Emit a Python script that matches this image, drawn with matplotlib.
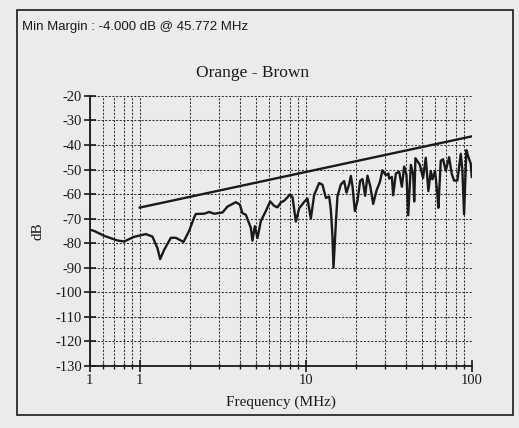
import matplotlib.pyplot as plt
from matplotlib.patches import Rectangle
from matplotlib.ticker import FixedLocator, LogLocator, NullFormatter

freq_mhz = [0.5, 0.531, 0.61, 0.734, 0.805, 0.925, 1.088, 1.192, 1.278, 1.327,
            1.403, 1.539, 1.65, 1.834, 1.984, 2.127, 2.178, 2.443, 2.618, 2.806,
            3.148, 3.375, 3.793, 4.009, 4.157, 4.356, 4.67, 4.773, 4.935, 5.117,
            5.364, 5.749, 6.103, 6.451, 6.753, 7.079, 7.411, 7.758, 8.02, 8.316,
            8.717, 9.125, 9.781, 10.24, 10.73, 11.23, 12.04, 12.61, 13.22, 13.84,
            14.16, 14.48, 14.69, 15.18, 15.52, 16.27, 17.03, 17.59, 18.26, 18.69,
            19.11, 19.76, 20.49, 21.27, 21.96, 22.79, 23.53, 24.43, 25.47, 26.67,
            27.95, 28.97, 30.37, 31.49, 31.8, 33.02, 33.62, 34.9, 36.53, 37.92,
            39.15, 40.43, 41.4, 42.97, 44.37, 45.0, 45.77, 48.61, 50.88, 52.83,
            54.77, 56.63, 57.9, 60.1, 62.05, 62.91, 65.05, 67.15, 69.71, 73.0,
            75.78, 78.25, 81.9, 85.86, 87.79, 89.88, 92.79, 95.4, 98.6, 100.0]
level_db = [-74.5, -75.0, -77.0, -78.9, -79.3, -77.4, -76.3, -77.3, -82.0, -86.5,
            -82.7, -77.8, -77.8, -79.5, -75.0, -69.5, -68.1, -68.0, -67.3, -68.0,
            -67.5, -65.1, -63.3, -64.3, -67.8, -68.4, -73.8, -79.0, -73.1, -77.9,
            -71.0, -66.9, -63.0, -64.8, -65.4, -63.4, -62.7, -61.3, -60.2, -61.2,
            -71.2, -65.8, -63.2, -61.8, -70.0, -60.4, -55.5, -56.2, -61.6, -61.0,
            -66.4, -77.3, -90.0, -71.8, -60.9, -56.1, -54.7, -59.4, -56.0, -52.6,
            -56.7, -66.9, -62.8, -54.6, -53.9, -60.7, -52.5, -56.6, -64.0, -58.6,
            -55.1, -50.3, -52.3, -51.6, -53.7, -53.0, -60.5, -51.6, -50.9, -57.0,
            -48.8, -52.2, -68.6, -48.1, -52.1, -63.0, -45.4, -48.0, -53.4, -45.2,
            -58.8, -50.6, -54.0, -50.6, -60.2, -65.6, -46.4, -45.8, -50.5, -45.0,
            -51.8, -54.5, -54.5, -43.6, -50.4, -68.2, -42.1, -44.9, -47.6, -53.0]

# limit line
limit_freq = [1, 100]
limit_db = [-65.5, -36.5]

y_ticks = list(range(-130, -19, 10))
x_ticks = [0.5, 1, 10, 100]
x_tick_labels = ["1", "1", "10", "100"]

paper = "#ebebeb"
ink = "#1a1a1a"

fig = plt.figure(figsize=(5.19, 4.28), dpi=100, facecolor=paper)
ax = fig.add_axes([0.173, 0.145, 0.736, 0.631])
ax.set_facecolor(paper)

ax.plot(freq_mhz, level_db, color=ink, lw=1.7, zorder=3)
ax.plot(limit_freq, limit_db, color=ink, lw=1.7, zorder=3)

ax.set_xscale("log")
ax.set_xlim(0.5, 100)
ax.set_ylim(-130, -20)

ax.xaxis.set_major_locator(FixedLocator(x_ticks))
ax.set_xticklabels(x_tick_labels)
ax.xaxis.set_minor_locator(LogLocator(base=10, subs=range(2, 10)))
ax.xaxis.set_minor_formatter(NullFormatter())
ax.set_yticks(y_ticks)
ax.set_yticklabels([str(v) for v in y_ticks])

serif = "Liberation Serif"
for lab in ax.get_xticklabels() + ax.get_yticklabels():
    lab.set_fontfamily(serif)
    lab.set_fontsize(10.5)
    lab.set_color(ink)

ax.tick_params(axis="y", which="major", direction="inout", length=9, width=1.2, pad=1, colors=ink)
ax.tick_params(axis="x", which="major", direction="inout", length=8, width=1.2, pad=2, colors=ink)
ax.tick_params(axis="x", which="minor", direction="inout", length=5, width=1.0, colors=ink)

ax.grid(True, which="both", axis="x", color="#333333", lw=0.75, ls=(0, (2, 1.5)))
ax.grid(True, which="major", axis="y", color="#333333", lw=0.75, ls=(0, (2, 1.5)))

for side in ["top", "right"]:
    ax.spines[side].set_visible(False)
for side in ["left", "bottom"]:
    ax.spines[side].set_color(ink)
    ax.spines[side].set_linewidth(1.3)

ax.set_xlabel("Frequency (MHz)", fontfamily=serif, fontsize=11, color=ink, labelpad=6)
ax.set_ylabel("dB", fontfamily=serif, fontsize=11, color=ink, labelpad=8)

fig.text(0.487, 0.830, "Orange - Brown", ha="center", va="center",
         fontfamily=serif, fontsize=12.5, color=ink)
fig.text(0.042, 0.937, "Min Margin : -4.000 dB @ 45.772 MHz", ha="left", va="center",
         fontfamily="Liberation Sans", fontsize=9.5, color=ink)

fig.patches.append(Rectangle((0.033, 0.03), 0.955, 0.947, transform=fig.transFigure,
                             fill=False, edgecolor=ink, lw=1.2))

fig.savefig("out.png", dpi=100, facecolor=paper)
